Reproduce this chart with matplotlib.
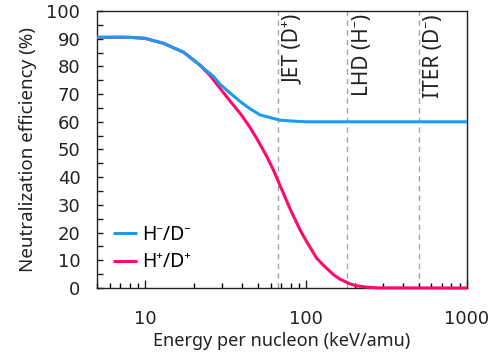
import matplotlib.pyplot as plt
from matplotlib.ticker import MultipleLocator, FixedLocator, NullFormatter

plt.rcParams['font.family'] = ['Noto Sans', 'DejaVu Sans']

# neutralization efficiency vs energy per nucleon
energy_neg = [5, 7, 8, 10, 13, 17.3, 21.8, 23, 26.6, 29.2, 33.6, 38.9, 44.7,
              51.6, 62.6, 68.8, 80, 100, 1000]
eff_neg = [90.5, 90.6, 90.5, 90.1, 88.3, 85.1, 80.5, 79.3, 76.3, 73.5, 70.4,
           67.3, 64.7, 62.5, 61.2, 60.6, 60.3, 60.0, 60.0]

energy_pos = [5, 8, 10, 13, 17.3, 21.8, 25, 29.2, 33.6, 38.9, 44.7, 49.2,
              56.9, 62.6, 67, 79.5, 91.5, 100, 116, 128, 148, 162, 187, 206,
              238, 280, 1000]
eff_pos = [90.5, 90.5, 90.1, 88.3, 85.1, 80.5, 77.0, 72.0, 67.5, 63.0, 58.0,
           54.0, 47.5, 42.5, 38.5, 28.5, 21.0, 17.0, 10.8, 8.2, 4.8, 3.2, 1.5,
           0.8, 0.3, 0.05, 0.0]

# beam energies of the devices
devices = ['JET (D⁺)', 'LHD (H⁻)', 'ITER (D⁻)']
device_energy = [67, 180, 500]

fig = plt.figure(figsize=(4.97, 3.6), dpi=100)
ax = fig.add_axes([97 / 497, 72 / 360, 370 / 497, 277 / 360])

for e, name in zip(device_energy, devices):
    ax.axvline(e, color='#a6a6a6', lw=1.0, ls=(0, (4, 3)), zorder=1)
    ax.annotate(name, xy=(e, 98.8), xytext=(15, 0), textcoords='offset pixels',
                rotation=90, ha='center', va='top', fontsize=15, color='#222222')

red, = ax.plot(energy_pos, eff_pos, color='#ff0a6a', lw=2.2, clip_on=False,
               zorder=3, solid_capstyle='butt')
blue, = ax.plot(energy_neg, eff_neg, color='#1a9cf2', lw=2.2, zorder=4,
                solid_capstyle='butt')

ax.set_xscale('log')
ax.set_xlim(5, 1000)
ax.set_ylim(0, 100)
ax.yaxis.set_major_locator(MultipleLocator(10))
ax.yaxis.set_minor_locator(MultipleLocator(5))
ax.xaxis.set_major_locator(FixedLocator([10, 100, 1000]))
ax.xaxis.set_minor_locator(FixedLocator([5, 6, 7, 8, 9, 20, 30, 40, 50, 60, 70, 80, 90,
                                         200, 300, 400, 500, 600, 700, 800, 900]))
ax.xaxis.set_minor_formatter(NullFormatter())
ax.set_xticklabels(['10', '100', '1000'])

ax.tick_params(axis='y', which='both', direction='in', length=4.5, width=1,
               pad=12, labelsize=13, colors='#222222')
ax.tick_params(axis='x', which='major', direction='in', length=5.5, width=1,
               pad=16, labelsize=13, colors='#222222')
ax.tick_params(axis='x', which='minor', direction='in', length=3.5, width=1)
for lab in ax.get_xticklabels() + ax.get_yticklabels():
    lab.set_family('DejaVu Sans')
for s in ax.spines.values():
    s.set_linewidth(1.0)
    s.set_color('#222222')

ax.set_xlabel('Energy per nucleon (keV/amu)', fontsize=13, color='#222222', labelpad=3)
ax.set_ylabel('Neutralization efficiency (%)', fontsize=13.5, color='#222222', labelpad=7)

ax.legend([blue, red], ['H⁻/D⁻', 'H⁺/D⁺'], loc='lower left',
          bbox_to_anchor=(0.0, 0.0), frameon=False, fontsize=14,
          handlelength=1.25, handletextpad=0.25, labelspacing=0.4,
          borderpad=0.3, borderaxespad=0.5)

fig.savefig('out.png', dpi=100)
